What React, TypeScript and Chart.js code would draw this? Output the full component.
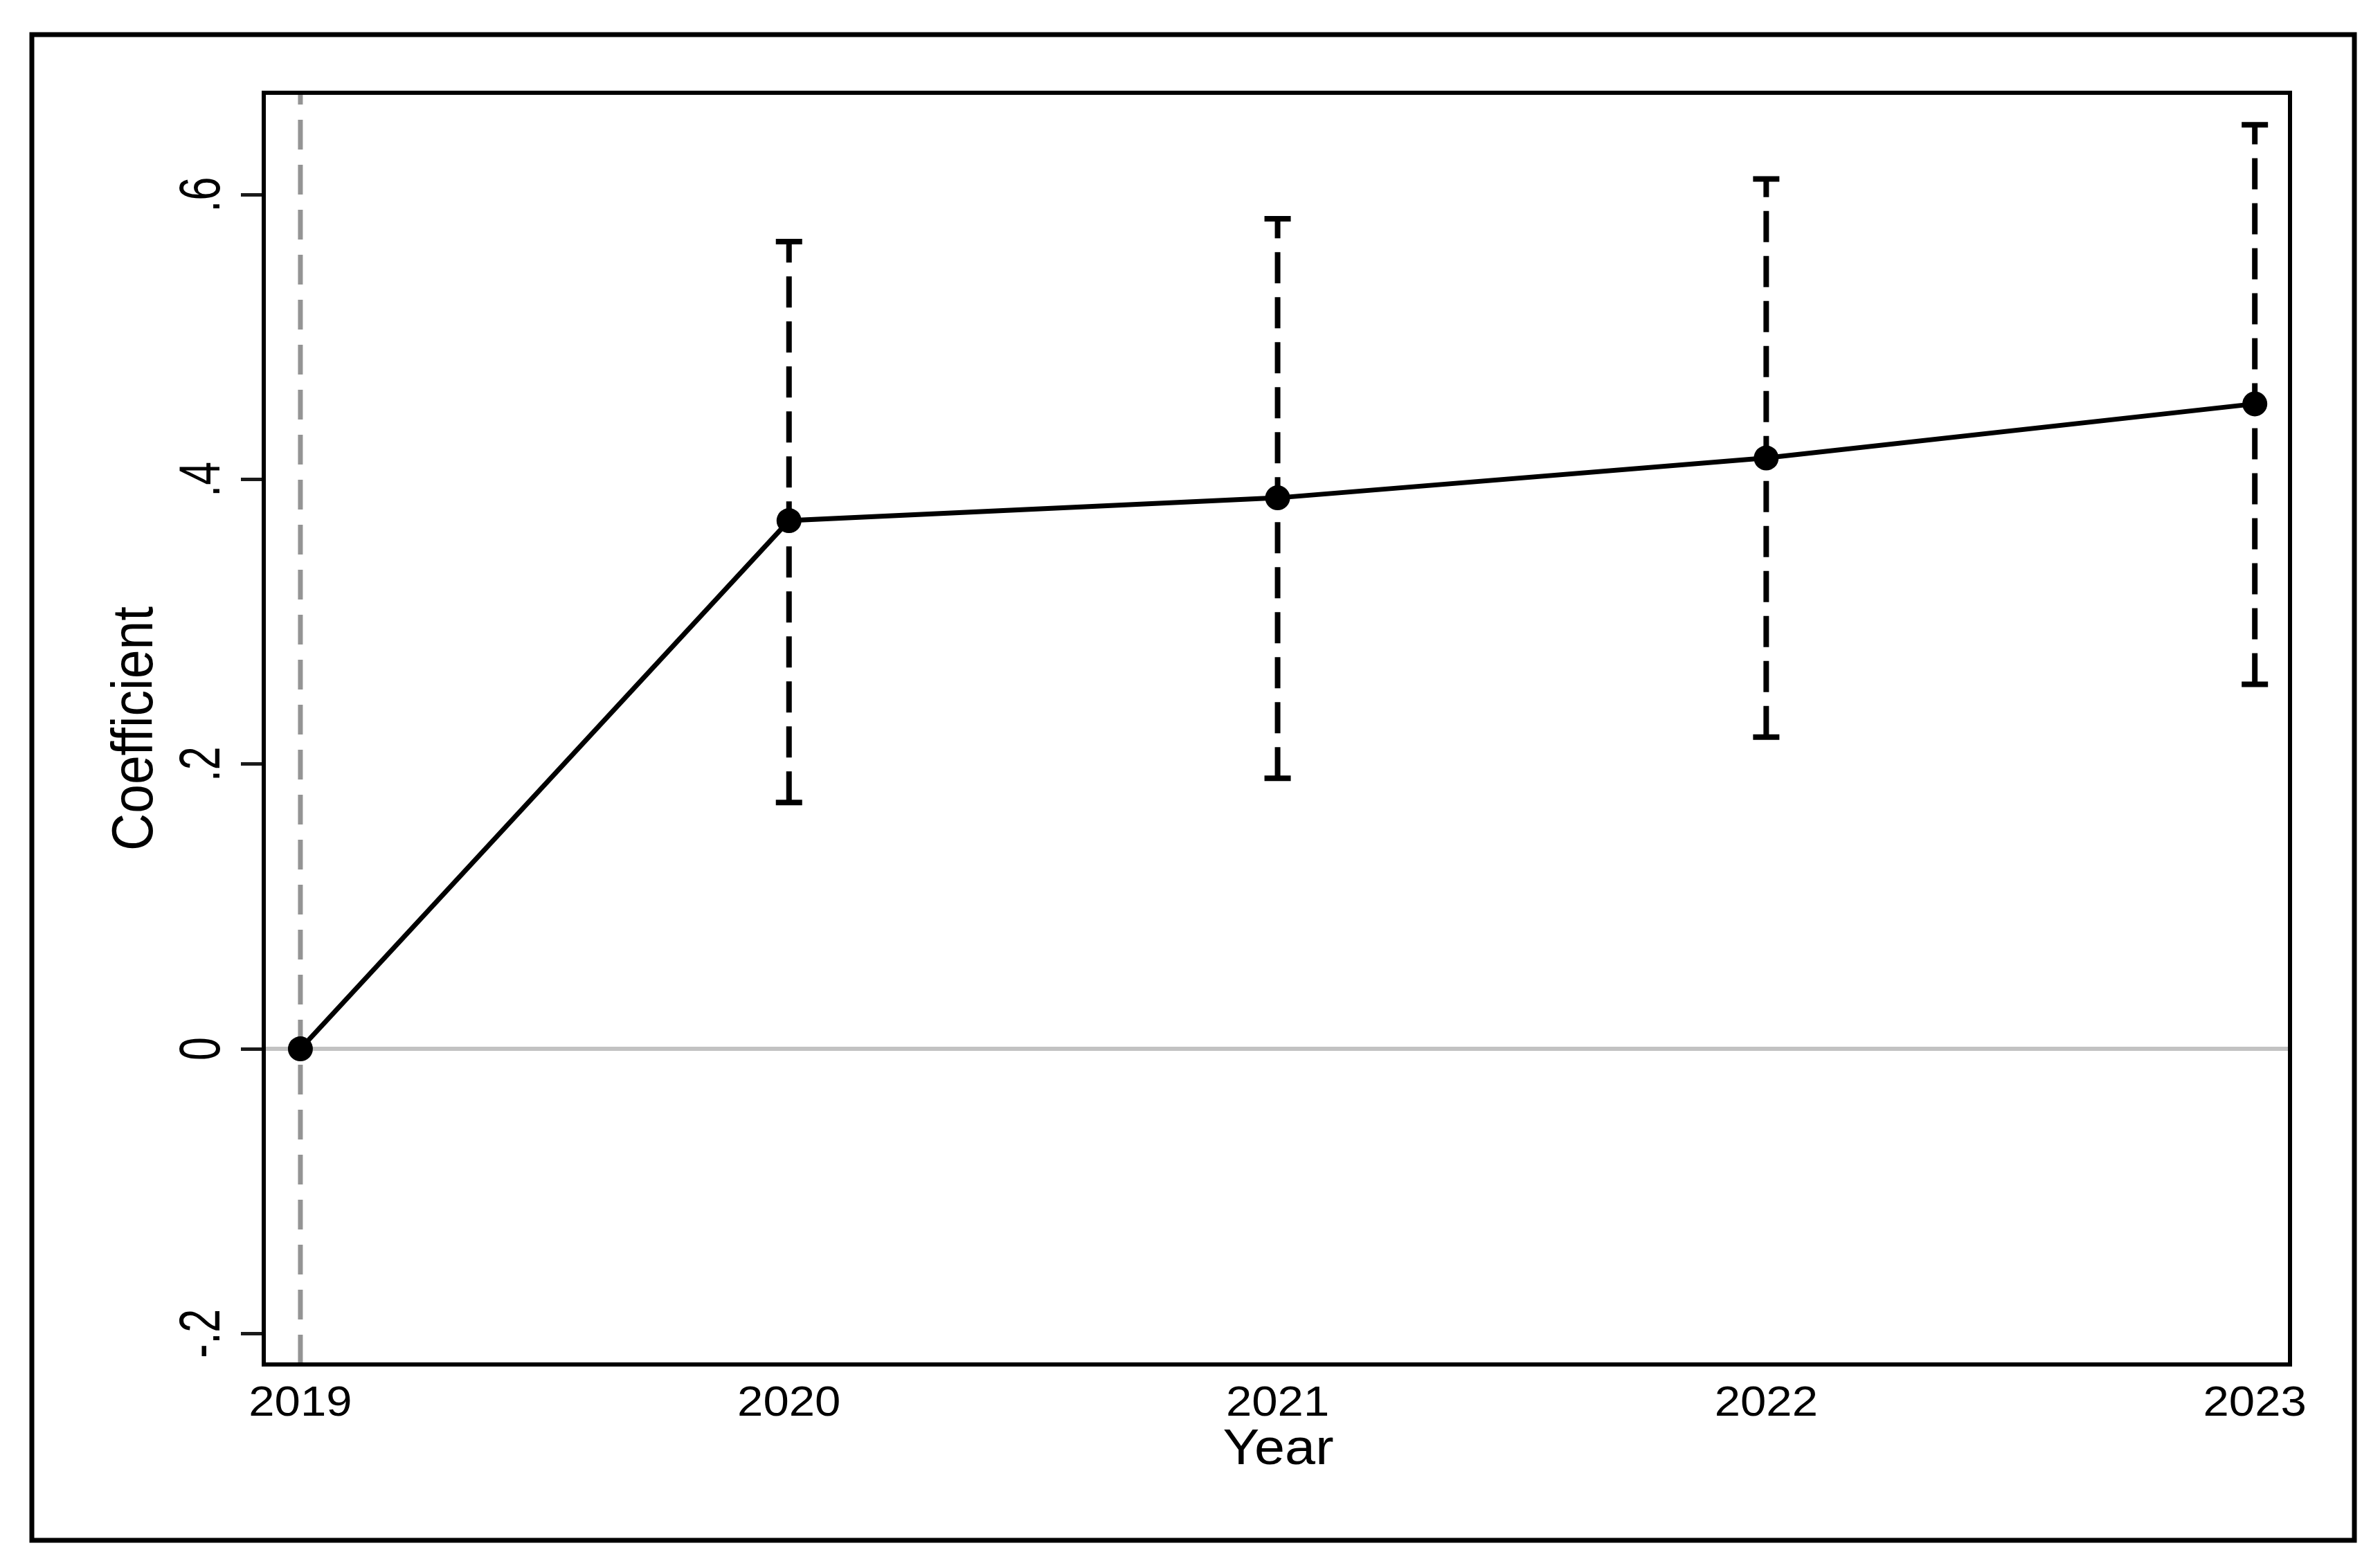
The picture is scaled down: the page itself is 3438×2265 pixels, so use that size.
import { useEffect, useRef } from 'react';
import { Chart, registerables } from 'chart.js';

Chart.register(...registerables);

// event-study style estimates
const years = [2019, 2020, 2021, 2022, 2023];
const coef = [0, 0.371, 0.387, 0.415, 0.453];
const ciLower = [null, 0.173, 0.19, 0.219, 0.256];
const ciUpper = [null, 0.567, 0.583, 0.611, 0.649];
const yTicks = [-0.2, 0, 0.2, 0.4, 0.6];
const yTickLabels = ['-.2', '0', '.2', '.4', '.6'];
const xTickLabels = ['2019', '2020', '2021', '2022', '2023'];
const refYear = 2019;

const W = 3438;
const H = 2265;
const FONT = '"Liberation Sans", Arial, Helvetica, sans-serif';

function drawText(
    ctx: CanvasRenderingContext2D,
    text: string,
    x: number,
    y: number,
    angle: number,
    sx: number,
    sy: number
) {
    ctx.save();
    ctx.translate(x, y);
    ctx.rotate(angle);
    ctx.scale(sx, sy);
    ctx.fillText(text, 0, 0);
    ctx.restore();
}

const stataPlugin = {
    id: 'stataLook',
    beforeDatasetsDraw(chart: Chart) {
        const { ctx, chartArea: a } = chart;
        const xs = chart.scales.x;
        const ys = chart.scales.y;
        ctx.save();

        // zero reference line
        const y0 = ys.getPixelForValue(0);
        ctx.strokeStyle = '#c2c2c2';
        ctx.lineWidth = 6;
        ctx.beginPath();
        ctx.moveTo(a.left, y0);
        ctx.lineTo(a.right, y0);
        ctx.stroke();

        // dashed reference year line
        const xr = xs.getPixelForValue(refYear);
        ctx.strokeStyle = '#949494';
        ctx.lineWidth = 7;
        ctx.setLineDash([43, 22]);
        ctx.beginPath();
        ctx.moveTo(xr, a.bottom);
        ctx.lineTo(xr, a.top);
        ctx.stroke();

        // confidence intervals
        ctx.strokeStyle = '#000';
        ctx.lineWidth = 8;
        years.forEach((yr, i) => {
            const lo = ciLower[i];
            const hi = ciUpper[i];
            if (lo == null || hi == null) return;
            const x = xs.getPixelForValue(yr);
            const pl = ys.getPixelForValue(lo);
            const ph = ys.getPixelForValue(hi);
            ctx.setLineDash([45, 20]);
            ctx.beginPath();
            ctx.moveTo(x, pl);
            ctx.lineTo(x, ph);
            ctx.stroke();
            ctx.setLineDash([]);
            ctx.beginPath();
            ctx.moveTo(x - 19, pl);
            ctx.lineTo(x + 19, pl);
            ctx.moveTo(x - 19, ph);
            ctx.lineTo(x + 19, ph);
            ctx.stroke();
        });
        ctx.restore();
    },
    afterDraw(chart: Chart) {
        const { ctx, chartArea: a } = chart;
        const xs = chart.scales.x;
        const ys = chart.scales.y;
        ctx.save();

        // plot region border
        ctx.strokeStyle = '#000';
        ctx.lineWidth = 6;
        ctx.strokeRect(a.left, a.top, a.right - a.left, a.bottom - a.top);

        // outer graph frame
        ctx.lineWidth = 7;
        ctx.strokeRect(46, 50, 3401 - 46, 2225 - 50);

        ctx.fillStyle = '#000';
        ctx.textAlign = 'center';
        ctx.textBaseline = 'alphabetic';

        // y tick labels, vertical
        ctx.font = `78px ${FONT}`;
        yTicks.forEach((v, i) => {
            drawText(ctx, yTickLabels[i], a.left - 64, ys.getPixelForValue(v), -Math.PI / 2, 0.78, 1.08);
        });

        // x tick labels
        ctx.font = `61px ${FONT}`;
        years.forEach((yr, i) => {
            drawText(ctx, xTickLabels[i], xs.getPixelForValue(yr), a.bottom + 74, 0, 1.1, 1);
        });

        // axis titles
        ctx.font = `75px ${FONT}`;
        drawText(ctx, 'Coefficient', a.left - 161, (a.top + a.bottom) / 2, -Math.PI / 2, 1, 1.1);
        ctx.font = `72px ${FONT}`;
        drawText(ctx, 'Year', (a.left + a.right) / 2 + 2, a.bottom + 144, 0, 1.1, 1);

        ctx.restore();
    }
};

export default function App() {
    const canvasRef = useRef<HTMLCanvasElement | null>(null);

    useEffect(() => {
        document.body.style.margin = '0';
        document.body.style.overflow = 'hidden';
        if (!canvasRef.current) return;
        const chart = new Chart(canvasRef.current, {
            type: 'line',
            data: {
                datasets: [
                    {
                        label: 'Coefficient',
                        data: years.map((yr, i) => ({ x: yr, y: coef[i] })),
                        borderColor: '#000',
                        borderWidth: 7,
                        pointRadius: 18,
                        pointBackgroundColor: '#000',
                        pointBorderWidth: 0,
                        tension: 0
                    }
                ]
            },
            options: {
                responsive: false,
                animation: false,
                devicePixelRatio: 1,
                layout: { padding: { top: 134, right: 130, left: 0, bottom: 0 } },
                plugins: { legend: { display: false }, tooltip: { enabled: false } },
                scales: {
                    x: {
                        type: 'linear',
                        min: 2018.925,
                        max: 2023.072,
                        afterBuildTicks: (s) => {
                            s.ticks = years.map((v) => ({ value: v }));
                        },
                        afterFit: (s) => {
                            s.height = 294;
                        },
                        ticks: { display: false },
                        grid: { display: false },
                        border: { display: false }
                    },
                    y: {
                        type: 'linear',
                        min: -0.2217,
                        max: 0.6715,
                        afterBuildTicks: (s) => {
                            s.ticks = yTicks.map((v) => ({ value: v }));
                        },
                        afterFit: (s) => {
                            s.width = 381;
                        },
                        ticks: { display: false },
                        grid: {
                            drawOnChartArea: false,
                            drawTicks: true,
                            tickLength: 33,
                            tickColor: '#1a1a1a',
                            tickWidth: 5
                        },
                        border: { display: false }
                    }
                }
            },
            plugins: [stataPlugin]
        });
        return () => {
            chart.destroy();
        };
    }, []);

    return (
        <div style={{ width: W, height: H, background: '#fff' }}>
            <canvas ref={canvasRef} width={W} height={H} style={{ width: W, height: H, display: 'block' }} />
        </div>
    );
}
